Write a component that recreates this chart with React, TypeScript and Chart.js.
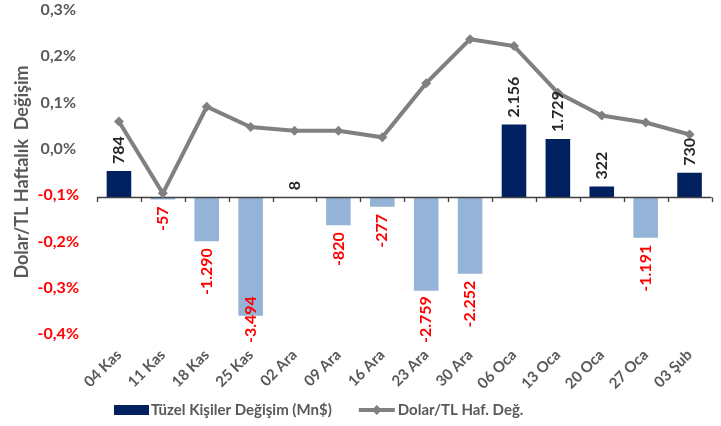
import React, { useEffect, useRef } from 'react';
import { Chart, registerables } from 'chart.js';

Chart.register(...registerables);

const categories = ['04 Kas', '11 Kas', '18 Kas', '25 Kas', '02 Ara', '09 Ara', '16 Ara', '23 Ara', '30 Ara', '06 Oca', '13 Oca', '20 Oca', '27 Oca', '03 Şub'];
const tuzelValues = [784, -57, -1290, -3494, 8, -820, -277, -2759, -2252, 2156, 1729, 322, -1191, 730];
const dolarTlValues = [0.059, -0.096, 0.091, 0.047, 0.039, 0.039, 0.025, 0.142, 0.237, 0.222, 0.121, 0.072, 0.057, 0.031];
const leftAxisMin = -0.4;
const leftAxisMax = 0.3;
const rightAxisMin = -4034;
const rightAxisMax = 5541;

const barLabel = 'Tüzel Kişiler Değişim (Mn$)';
const lineLabel = 'Dolar/TL Haf. Değ.';
const yTitle = 'Dolar/TL Haftalık  Değişim';

const FONT = "Lato, 'Open Sans', sans-serif";
const NAVY = '#002060';
const LIGHT = '#95B3D7';
const GRAY_LINE = '#808080';
const TEXT_GRAY = '#595959';
const RED = '#FF0000';

const fmtThousands = (v: number) => {
  const s = Math.abs(v).toString().replace(/\B(?=(\d{3})+(?!\d))/g, '.');
  return (v < 0 ? '-' : '') + s;
};

const fmtPct = (v: number) => {
  const r = Math.round(v * 10) / 10;
  const s = (Math.abs(r) < 1e-9 ? 0 : r).toFixed(1).replace('.', ',');
  return s + '%';
};

const customPlugin = {
  id: 'customDraw',
  afterDatasetDraw(chart: any, args: any) {
    if (args.index !== 0) return;
    const { ctx, chartArea } = chart;
    const y0 = chart.scales.y2.getPixelForValue(0);
    ctx.save();
    ctx.strokeStyle = '#404040';
    ctx.lineWidth = 1.3;
    ctx.beginPath();
    ctx.moveTo(chartArea.left, y0);
    ctx.lineTo(chartArea.right, y0);
    const n = categories.length;
    const w = (chartArea.right - chartArea.left) / n;
    for (let i = 0; i <= n; i++) {
      const px = Math.round(chartArea.left + i * w) + 0.5;
      ctx.moveTo(px, y0);
      ctx.lineTo(px, y0 + 4.5);
    }
    ctx.stroke();
    ctx.restore();
  },
  afterDraw(chart: any) {
    const { ctx, chartArea } = chart;
    ctx.save();
    // data labels
    const meta = chart.getDatasetMeta(0);
    ctx.font = `bold 16px ${FONT}`;
    ctx.textBaseline = 'middle';
    meta.data.forEach((bar: any, i: number) => {
      const v = tuzelValues[i];
      const txt = fmtThousands(v);
      const tw = ctx.measureText(txt).width;
      ctx.save();
      if (v >= 0) {
        const top = Math.min(bar.y, bar.base);
        ctx.translate(bar.x, top - 7);
        ctx.rotate(-Math.PI / 2);
        ctx.textAlign = 'left';
        ctx.fillStyle = '#262626';
        ctx.fillText(txt, 0, 0);
      } else {
        const bottom = Math.max(bar.y, bar.base);
        let start = bottom + 7;
        const limit = chartArea.bottom + 9;
        if (start + tw > limit) start = limit - tw;
        ctx.translate(bar.x, start);
        ctx.rotate(-Math.PI / 2);
        ctx.textAlign = 'right';
        ctx.fillStyle = RED;
        ctx.fillText(txt, 0, 0);
      }
      ctx.restore();
    });

    // y axis title
    ctx.save();
    ctx.font = `bold 18px ${FONT}`;
    ctx.fillStyle = TEXT_GRAY;
    ctx.textAlign = 'center';
    ctx.textBaseline = 'middle';
    ctx.translate(22, (chartArea.top + chartArea.bottom) / 2);
    ctx.rotate(-Math.PI / 2);
    ctx.fillText(yTitle, 0, 0);
    ctx.restore();

    // legend
    ctx.font = `bold 15px ${FONT}`;
    ctx.textBaseline = 'middle';
    ctx.textAlign = 'left';
    const ly = 410;
    let lx = 114;
    ctx.fillStyle = NAVY;
    ctx.fillRect(lx, ly - 5, 35, 10);
    lx += 37;
    ctx.fillStyle = TEXT_GRAY;
    ctx.fillText(barLabel, lx, ly);
    lx += ctx.measureText(barLabel).width + 27;
    ctx.strokeStyle = GRAY_LINE;
    ctx.lineWidth = 4;
    ctx.beginPath();
    ctx.moveTo(lx, ly);
    ctx.lineTo(lx + 36, ly);
    ctx.stroke();
    ctx.fillStyle = GRAY_LINE;
    ctx.beginPath();
    const cx = lx + 18;
    ctx.moveTo(cx, ly - 5);
    ctx.lineTo(cx + 5, ly);
    ctx.lineTo(cx, ly + 5);
    ctx.lineTo(cx - 5, ly);
    ctx.closePath();
    ctx.fill();
    lx += 39;
    ctx.fillStyle = TEXT_GRAY;
    ctx.fillText(lineLabel, lx, ly);
    ctx.restore();
  },
};

export default function App() {
  const canvasRef = useRef<HTMLCanvasElement | null>(null);

  useEffect(() => {
    if (!canvasRef.current) return;
    const chart = new Chart(canvasRef.current, {
      type: 'bar',
      data: {
        labels: categories,
        datasets: [
          {
            type: 'bar',
            label: barLabel,
            data: tuzelValues,
            yAxisID: 'y2',
            backgroundColor: tuzelValues.map((v) => (v >= 0 ? NAVY : LIGHT)),
            borderWidth: 0,
            categoryPercentage: 1,
            barPercentage: 0.56,
            order: 2,
          },
          {
            type: 'line',
            label: lineLabel,
            data: dolarTlValues,
            yAxisID: 'y',
            borderColor: GRAY_LINE,
            backgroundColor: GRAY_LINE,
            borderWidth: 4,
            pointStyle: 'rectRot',
            pointRadius: 5,
            pointBackgroundColor: GRAY_LINE,
            pointBorderColor: GRAY_LINE,
            pointBorderWidth: 0,
            tension: 0,
            order: 1,
          } as any,
        ],
      },
      options: {
        responsive: false,
        animation: false,
        layout: { padding: { top: 10, right: 9.5, left: 0, bottom: 0 } },
        plugins: {
          legend: { display: false },
          tooltip: { enabled: false },
        },
        scales: {
          x: {
            offset: true,
            grid: { display: false, drawTicks: false },
            border: { display: false },
            ticks: {
              autoSkip: false,
              minRotation: 45,
              maxRotation: 45,
              padding: 12,
              color: TEXT_GRAY,
              font: { family: FONT, weight: 'bold', size: 15 },
            },
            afterFit: (s: any) => {
              s.height = 92;
            },
          },
          y: {
            position: 'left',
            min: leftAxisMin,
            max: leftAxisMax,
            grid: {
              display: true,
              drawOnChartArea: false,
              drawTicks: true,
              tickLength: 18,
              tickColor: 'rgba(0,0,0,0)',
              color: 'rgba(0,0,0,0)',
            },
            border: { display: false },
            ticks: {
              stepSize: 0.1,
              padding: 0,
              crossAlign: 'center',
              color: (c: any) => (c.tick && c.tick.value < -0.05 ? RED : TEXT_GRAY),
              font: { family: FONT, weight: 'bold', size: 16 },
              callback: (v: any) => fmtPct(Number(v)),
            },
            afterFit: (s: any) => {
              s.width = 97;
            },
          },
          y2: {
            display: false,
            min: rightAxisMin,
            max: rightAxisMax,
          },
        },
      } as any,
      plugins: [customPlugin],
    });
    return () => chart.destroy();
  }, []);

  return (
    <div style={{ position: 'fixed', left: 0, top: 0, width: 721, height: 426, background: '#fff' }}>
      <canvas ref={canvasRef} width={721} height={426} style={{ display: 'block' }} />
    </div>
  );
}
